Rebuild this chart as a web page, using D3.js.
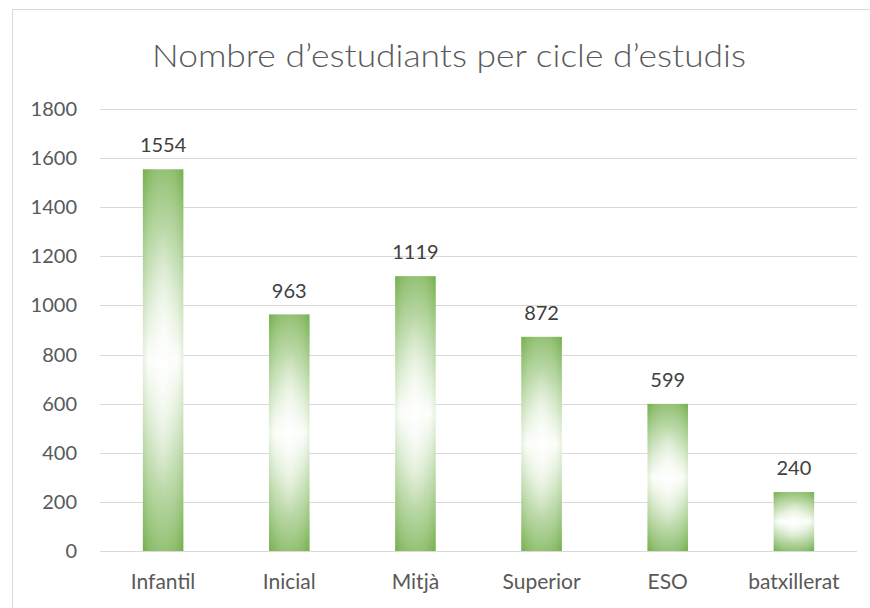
<!DOCTYPE html>
<html>
<head>
<meta charset="utf-8">
<script src="https://cdn.jsdelivr.net/npm/d3@7"></script>
<style>
  body { margin: 0; background: #fff; }
  svg { display: block; font-family: Lato, sans-serif; }
</style>
</head>
<body>
<svg id="chart" width="870" height="608"></svg>
<script>
const categories = ["Infantil", "Inicial", "Mitjà", "Superior", "ESO", "batxillerat"];
const values = [1554, 963, 1119, 872, 599, 240];
const yTicks = [0, 200, 400, 600, 800, 1000, 1200, 1400, 1600, 1800];
const title = "Nombre d’estudiants per cicle d’estudis";

const svg = d3.select("#chart");
const plot = {left: 100, right: 857, top: 109, bottom: 551};
const textColor = "#595959";

// chart frame
svg.append("rect")
    .attr("x", 12.5).attr("y", 9.5)
    .attr("width", 870).attr("height", 620)
    .attr("fill", "#fff")
    .attr("stroke", "#d9d9d9");

const x = d3.scaleBand()
    .domain(categories)
    .range([plot.left, plot.right])
    .paddingInner(0.68)
    .paddingOuter(0.34);

const y = d3.scaleLinear()
    .domain([0, 1800])
    .range([plot.bottom, plot.top]);

// gradients
const defs = svg.append("defs");
const lin = defs.append("linearGradient")
    .attr("id", "barLin")
    .attr("x1", 0).attr("y1", 0).attr("x2", 0).attr("y2", 1);
lin.append("stop").attr("offset", 0).attr("stop-color", "#70ad47");
lin.append("stop").attr("offset", 0.25).attr("stop-color", "#b5d6a0");
lin.append("stop").attr("offset", 0.5).attr("stop-color", "#fbfdf9");
lin.append("stop").attr("offset", 0.75).attr("stop-color", "#b5d6a0");
lin.append("stop").attr("offset", 1).attr("stop-color", "#70ad47");

const rad = defs.append("radialGradient")
    .attr("id", "barRad")
    .attr("cx", 0.5).attr("cy", 0.5).attr("r", 0.72);
rad.append("stop").attr("offset", 0).attr("stop-color", "#ffffff").attr("stop-opacity", 0.9);
rad.append("stop").attr("offset", 0.5).attr("stop-color", "#ffffff").attr("stop-opacity", 0.3);
rad.append("stop").attr("offset", 1).attr("stop-color", "#70ad47").attr("stop-opacity", 0.6);

// gridlines
svg.append("g")
    .selectAll("line")
    .data(yTicks)
    .join("line")
    .attr("x1", plot.left).attr("x2", plot.right)
    .attr("y1", d => Math.round(y(d)) + 0.5)
    .attr("y2", d => Math.round(y(d)) + 0.5)
    .attr("stroke", "#d9d9d9")
    .attr("stroke-width", 1);

// y labels
svg.append("g")
    .selectAll("text")
    .data(yTicks)
    .join("text")
    .attr("x", 77)
    .attr("y", d => y(d))
    .attr("dy", "0.35em")
    .attr("text-anchor", "end")
    .attr("fill", textColor)
    .attr("font-size", 20)
    .text(d => d);

// bars
const data = categories.map((c, i) => ({cat: c, val: values[i]}));
const bars = svg.append("g");
bars.selectAll("rect.base")
    .data(data)
    .join("rect")
    .attr("class", "base")
    .attr("x", d => x(d.cat))
    .attr("y", d => y(d.val))
    .attr("width", x.bandwidth())
    .attr("height", d => y(0) - y(d.val))
    .attr("fill", "url(#barLin)");
bars.selectAll("rect.glow")
    .data(data)
    .join("rect")
    .attr("class", "glow")
    .attr("x", d => x(d.cat))
    .attr("y", d => y(d.val))
    .attr("width", x.bandwidth())
    .attr("height", d => y(0) - y(d.val))
    .attr("fill", "url(#barRad)");

// value labels
svg.append("g")
    .selectAll("text")
    .data(data)
    .join("text")
    .attr("x", d => x(d.cat) + x.bandwidth() / 2)
    .attr("y", d => y(d.val) - 17)
    .attr("text-anchor", "middle")
    .attr("fill", "#404040")
    .attr("font-size", 20)
    .text(d => d.val);

// x labels
svg.append("g")
    .selectAll("text")
    .data(categories)
    .join("text")
    .attr("x", d => x(d) + x.bandwidth() / 2)
    .attr("y", 589)
    .attr("text-anchor", "middle")
    .attr("fill", textColor)
    .attr("font-size", 21)
    .text(d => d);

// title
svg.append("text")
    .attr("x", 449)
    .attr("y", 67)
    .attr("text-anchor", "middle")
    .attr("fill", textColor)
    .attr("font-size", 32)
    .attr("font-weight", 300)
    .attr("textLength", 594)
    .attr("lengthAdjust", "spacingAndGlyphs")
    .text(title);
</script>
</body>
</html>
